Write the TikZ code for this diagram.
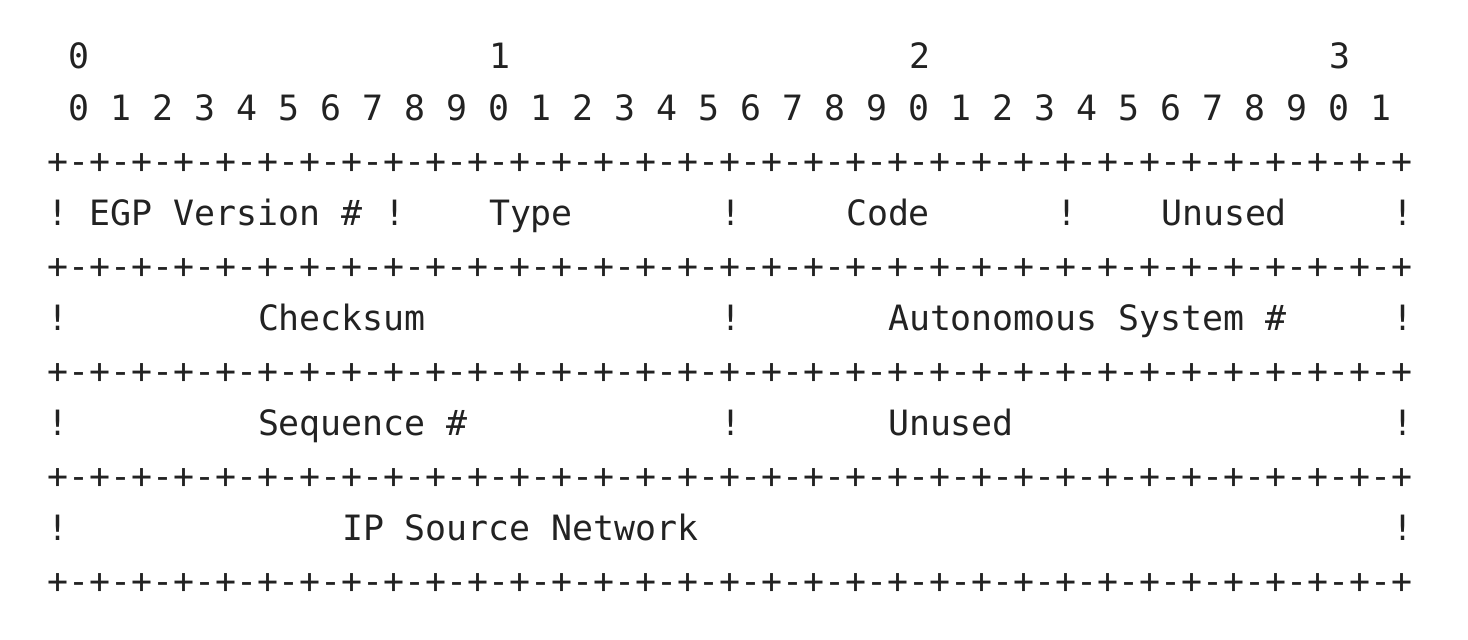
\documentclass[tikz,border=0pt]{standalone}
\usepackage{fontspec}
\newfontfamily\monofam{DejaVu Sans Mono}
\definecolor{ink}{HTML}{222222}
\tikzset{
  txt/.style={anchor=base west, inner sep=0pt, outer sep=0pt, text=ink,
    font=\monofam\fontsize{17.44pt}{26.25pt}\selectfont\frenchspacing},
}
\begin{document}
\begin{tikzpicture}[x=10.5pt, y=-26.25pt]
\useasboundingbox (-24pt,34pt) rectangle (710pt,-285.5pt);
% header
\node[txt] (h0) at (1,0) {0};
\node[txt] (h1) at (21,0) {1};
\node[txt] (h2) at (41,0) {2};
\node[txt] (h3) at (61,0) {3};
\node[txt] (bits) at (1,1) {0 1 2 3 4 5 6 7 8 9 0 1 2 3 4 5 6 7 8 9 0 1 2 3 4 5 6 7 8 9 0 1};
% borders
\foreach \r/\nm in {2/b1,4/b2,6/b3,8/b4,10/b5}
  \node[txt] (\nm) at (0,\r) {+-+-+-+-+-+-+-+-+-+-+-+-+-+-+-+-+-+-+-+-+-+-+-+-+-+-+-+-+-+-+-+-+};
% row 1
\node[txt] (r1a) at (0,3) {!};
\node[txt] (ver) at (2,3) {EGP Version \#};
\node[txt] (r1b) at (16,3) {!};
\node[txt] (type) at (21,3) {Type};
\node[txt] (r1c) at (32,3) {!};
\node[txt] (code) at (38,3) {Code};
\node[txt] (r1d) at (48,3) {!};
\node[txt] (unused1) at (53,3) {Unused};
\node[txt] (r1e) at (64,3) {!};
% row 2
\node[txt] (r2a) at (0,5) {!};
\node[txt] (chk) at (10,5) {Checksum};
\node[txt] (r2b) at (32,5) {!};
\node[txt] (asn) at (40,5) {Autonomous System \#};
\node[txt] (r2c) at (64,5) {!};
% row 3
\node[txt] (r3a) at (0,7) {!};
\node[txt] (seq) at (10,7) {Sequence \#};
\node[txt] (r3b) at (32,7) {!};
\node[txt] (unused2) at (40,7) {Unused};
\node[txt] (r3c) at (64,7) {!};
% row 4
\node[txt] (r4a) at (0,9) {!};
\node[txt] (ipsrc) at (14,9) {IP Source Network};
\node[txt] (r4b) at (64,9) {!};
\end{tikzpicture}
\end{document}
